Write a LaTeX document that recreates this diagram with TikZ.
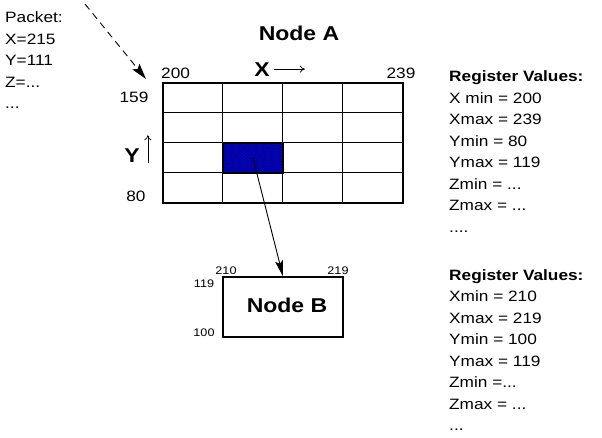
\documentclass[tikz,border=0pt]{standalone}
\usepackage{fontspec}
\setmainfont{Liberation Sans}[FakeStretch=1.15]
\usetikzlibrary{positioning,arrows.meta,patterns}

\tikzset{
  gridbox/.style={draw, line width=1.2pt, minimum width=240pt, minimum height=120pt, inner sep=0pt},
  hotcell/.style={draw, line width=1.2pt, minimum width=60pt, minimum height=30pt, inner sep=0pt,
                  preaction={fill=blue!85!black}, pattern=north east lines, pattern color=blue!30!black},
  nodebox/.style={draw, line width=1.2pt, minimum width=120pt, minimum height=60pt, inner sep=0pt},
  title/.style={font=\bfseries\fontsize{20}{24}\selectfont, inner sep=0pt, anchor=base},
  numlbl/.style={font=\fontsize{15}{18}\selectfont, inner sep=0pt, anchor=base},
  smalllbl/.style={font=\fontsize{11}{13}\selectfont, inner sep=0pt, anchor=base},
  infotext/.style={font=\fontsize{15}{21.5}\selectfont, align=left, inner sep=0pt, anchor=north west},
  bigarrow/.style={line width=0.9pt, -{Stealth[length=16pt,width=8pt,inset=3pt]}},
  dasharrow/.style={line width=0.9pt, dash pattern=on 7pt off 5pt, -{Stealth[length=16pt,width=9pt,inset=3pt]}},
  thinarrow/.style={line width=0.7pt, -{To[length=5pt,width=7pt]}}
}

\begin{document}
\begin{tikzpicture}[x=1pt,y=-1pt]
  \useasboundingbox (0,0) rectangle (602,437);

  % Node A grid
  \node[gridbox] (gridA) at (283,143) {};
  \foreach \i in {1,2,3} {
    \draw[line width=1.2pt] (gridA.north west) ++(60*\i,0) -- ++(0,120);
    \draw[line width=1.2pt] (gridA.north west) ++(0,30*\i) -- ++(240,0);
  }
  \node[hotcell] (cell) at (253,158) {};

  \node[title] (nameA) at (299,40) {Node A};
  \node[title] (xlbl)  at (262,76) {X};
  \node[title] (ylbl)  at (132,162) {Y};
  \draw[thinarrow] ([xshift=4pt]xlbl.east) -- ++(31,0);
  \draw[thinarrow] ([xshift=8pt,yshift=-1pt]ylbl.south east) -- ++(0,-28);

  \node[numlbl, anchor=south west] (xminA) at (161,79)    {200};
  \node[numlbl, anchor=south]      (xmaxA) at (401,79)    {239};
  \node[numlbl]                    (ymaxA) at (134,102.5) {159};
  \node[numlbl]                    (yminA) at (136,201.5) {80};

  % Node B
  \node[nodebox] (nodeB) at (283,307) {};
  \node[title]   (nameB) at (287,312) {Node B};
  \node[smalllbl] (xminB) at (226,274) {210};
  \node[smalllbl] (xmaxB) at (338,274) {219};
  \node[smalllbl] (ymaxB) at (204,287) {119};
  \node[smalllbl] (yminB) at (204,336) {100};

  % Packet and registers
  \node[infotext] (packet) at (5,11.5) {Packet:\\X=215\\Y=111\\Z=...\\...};
  \node[infotext] (regA) at (449,70.5) {\textbf{Register Values:}\\X min = 200\\Xmax = 239\\Ymin = 80\\Ymax = 119\\Zmin = ...\\Zmax = ...\\....};
  \node[infotext] (regB) at (449,269) {\textbf{Register Values:}\\Xmin = 210\\Xmax = 219\\Ymin = 100\\Ymax = 119\\Zmin =...\\Zmax = ...\\...};

  % Connect
  \coordinate (pktstart) at (85,4);
  \coordinate (pkthit)   at (146,79);
  \draw[dasharrow] (pktstart) -- (pkthit);
  \draw[bigarrow]  (cell.center) -- (nodeB.north);
\end{tikzpicture}
\end{document}
